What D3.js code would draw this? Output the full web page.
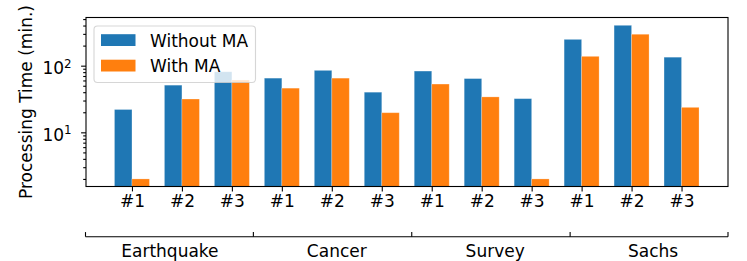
<!DOCTYPE html>
<html>
<head>
<meta charset="utf-8">
<script src="https://cdn.jsdelivr.net/npm/d3@7"></script>
<style>
  body { margin: 0; background: #fff; }
  svg text { font-family: "DejaVu Sans", sans-serif; fill: #000; }
  .axis path, .axis line { stroke: #000; stroke-width: 1.1; }
</style>
</head>
<body>
<div id="chart"></div>
<script>
// data
var groups = ["Earthquake", "Cancer", "Survey", "Sachs"];
var subLabels = ["#1", "#2", "#3"];
var seriesNames = ["Without MA", "With MA"];
var withoutMA = [22, 51, 81, 65, 85, 40, 83, 64, 32, 248, 403, 134];
var withMA = [2, 31.6, 61, 46, 65, 19.7, 53, 34, 2, 138, 296, 23.7];
var majorTicks = [10, 100];
var groupEdges = [-0.93, 2.43, 5.6, 8.77, 11.93];
var groupCenters = [0.76, 4.1, 7.27, 10.43];

var colors = ["#1f77b4", "#ff7f0e"];

var W = 747, H = 261;
var margin = { left: 86, right: 19, top: 17.5, bottom: 74.5 };
var fontSize = 17;

var svg = d3.select("#chart").append("svg")
    .attr("width", W).attr("height", H);

var categories = [];
groups.forEach(function(g) {
  subLabels.forEach(function(s) { categories.push(s); });
});

var x = d3.scaleLinear()
    .domain([-0.92, 11.93])
    .range([margin.left, W - margin.right]);

var y = d3.scaleLog()
    .domain([1.54, 528])
    .range([H - margin.bottom, margin.top]);

var barW = x(0.35) - x(0);
var yBase = H - margin.bottom;

//////////// BARS ////////////
[withoutMA, withMA].forEach(function(vals, si) {
  svg.append("g")
    .selectAll("rect")
    .data(vals)
    .enter().append("rect")
      .attr("x", function(d, i) { return si == 0 ? x(i) - barW : x(i); })
      .attr("width", barW)
      .attr("y", function(d) { return y(d); })
      .attr("height", function(d) { return yBase - y(d); })
      .attr("fill", colors[si])
      .attr("stroke", "#fff")
      .attr("stroke-opacity", 0.3)
      .attr("stroke-width", 0.8);
});

//////////// AXES ////////////
// x axis
var xAxis = svg.append("g")
    .attr("class", "axis")
    .attr("transform", "translate(0," + yBase + ")")
    .call(d3.axisBottom(x)
      .tickValues(d3.range(categories.length))
      .tickFormat(function(d) { return categories[d]; })
      .tickSize(4.9)
      .tickPadding(4));
xAxis.select(".domain").remove();
xAxis.selectAll("text")
    .attr("font-size", fontSize)
    .attr("font-family", "DejaVu Sans");

// y axis major
var yAxis = svg.append("g")
    .attr("class", "axis")
    .attr("transform", "translate(" + margin.left + ",0)")
    .call(d3.axisLeft(y).tickValues(majorTicks).tickFormat("").tickSize(4.9));
yAxis.select(".domain").remove();

// y axis minor
var minor = [];
[1, 10, 100].forEach(function(dec) {
  for (var k = 2; k <= 9; k++) {
    var v = k * dec;
    if (v >= y.domain()[0] && v <= y.domain()[1]) minor.push(v);
  }
});
var yMinor = svg.append("g")
    .attr("class", "axis")
    .attr("transform", "translate(" + margin.left + ",0)")
    .call(d3.axisLeft(y).tickValues(minor).tickFormat("").tickSize(2.8));
yMinor.select(".domain").remove();
yMinor.selectAll("line").attr("stroke-width", 0.8);

// power-of-ten labels
majorTicks.forEach(function(v) {
  var t = svg.append("text")
      .attr("x", margin.left - 14.3)
      .attr("y", y(v) + 8.3)
      .attr("text-anchor", "end")
      .attr("font-size", fontSize);
  t.append("tspan").text("10");
  t.append("tspan")
      .attr("dy", -6.2)
      .attr("font-size", fontSize * 0.7)
      .text(Math.round(Math.log10(v)));
});

// y label
svg.append("text")
    .attr("transform", "translate(31.5," + ((margin.top + yBase) / 2) + ") rotate(-90)")
    .attr("text-anchor", "middle")
    .attr("font-size", fontSize)
    .text("Processing Time (min.)");

// frame
svg.append("rect")
    .attr("x", margin.left)
    .attr("y", margin.top)
    .attr("width", W - margin.right - margin.left)
    .attr("height", yBase - margin.top)
    .attr("fill", "none")
    .attr("stroke", "#000")
    .attr("stroke-width", 1.1);

//////////// GROUP BRACKETS ////////////
var bracketY = 236.7;
svg.append("line")
    .attr("x1", x(groupEdges[0])).attr("x2", x(groupEdges[groupEdges.length - 1]))
    .attr("y1", bracketY).attr("y2", bracketY)
    .attr("stroke", "#000").attr("stroke-width", 1.1);
svg.append("g")
  .selectAll("line")
  .data(groupEdges)
  .enter().append("line")
    .attr("x1", function(d) { return x(d); })
    .attr("x2", function(d) { return x(d); })
    .attr("y1", bracketY).attr("y2", bracketY - 4.6)
    .attr("stroke", "#000").attr("stroke-width", 1.1);
svg.append("g")
  .selectAll("text")
  .data(groups)
  .enter().append("text")
    .attr("x", function(d, i) { return x(groupCenters[i]); })
    .attr("y", 256.8)
    .attr("text-anchor", "middle")
    .attr("font-size", fontSize)
    .text(function(d) { return d; });

//////////// LEGEND ////////////
var leg = svg.append("g");
leg.append("rect")
    .attr("x", 94).attr("y", 26)
    .attr("width", 161.5).attr("height", 56.5)
    .attr("rx", 3.5)
    .attr("fill", "#fff").attr("fill-opacity", 0.8)
    .attr("stroke", "#ccc").attr("stroke-opacity", 0.8)
    .attr("stroke-width", 1.1);
seriesNames.forEach(function(name, i) {
  leg.append("rect")
      .attr("x", 101).attr("y", 34.2 + i * 25.5)
      .attr("width", 34.5).attr("height", 11.8)
      .attr("fill", colors[i]);
  leg.append("text")
      .attr("x", 150).attr("y", 46.5 + i * 25.2)
      .attr("font-size", fontSize)
      .text(name);
});
</script>
</body>
</html>
